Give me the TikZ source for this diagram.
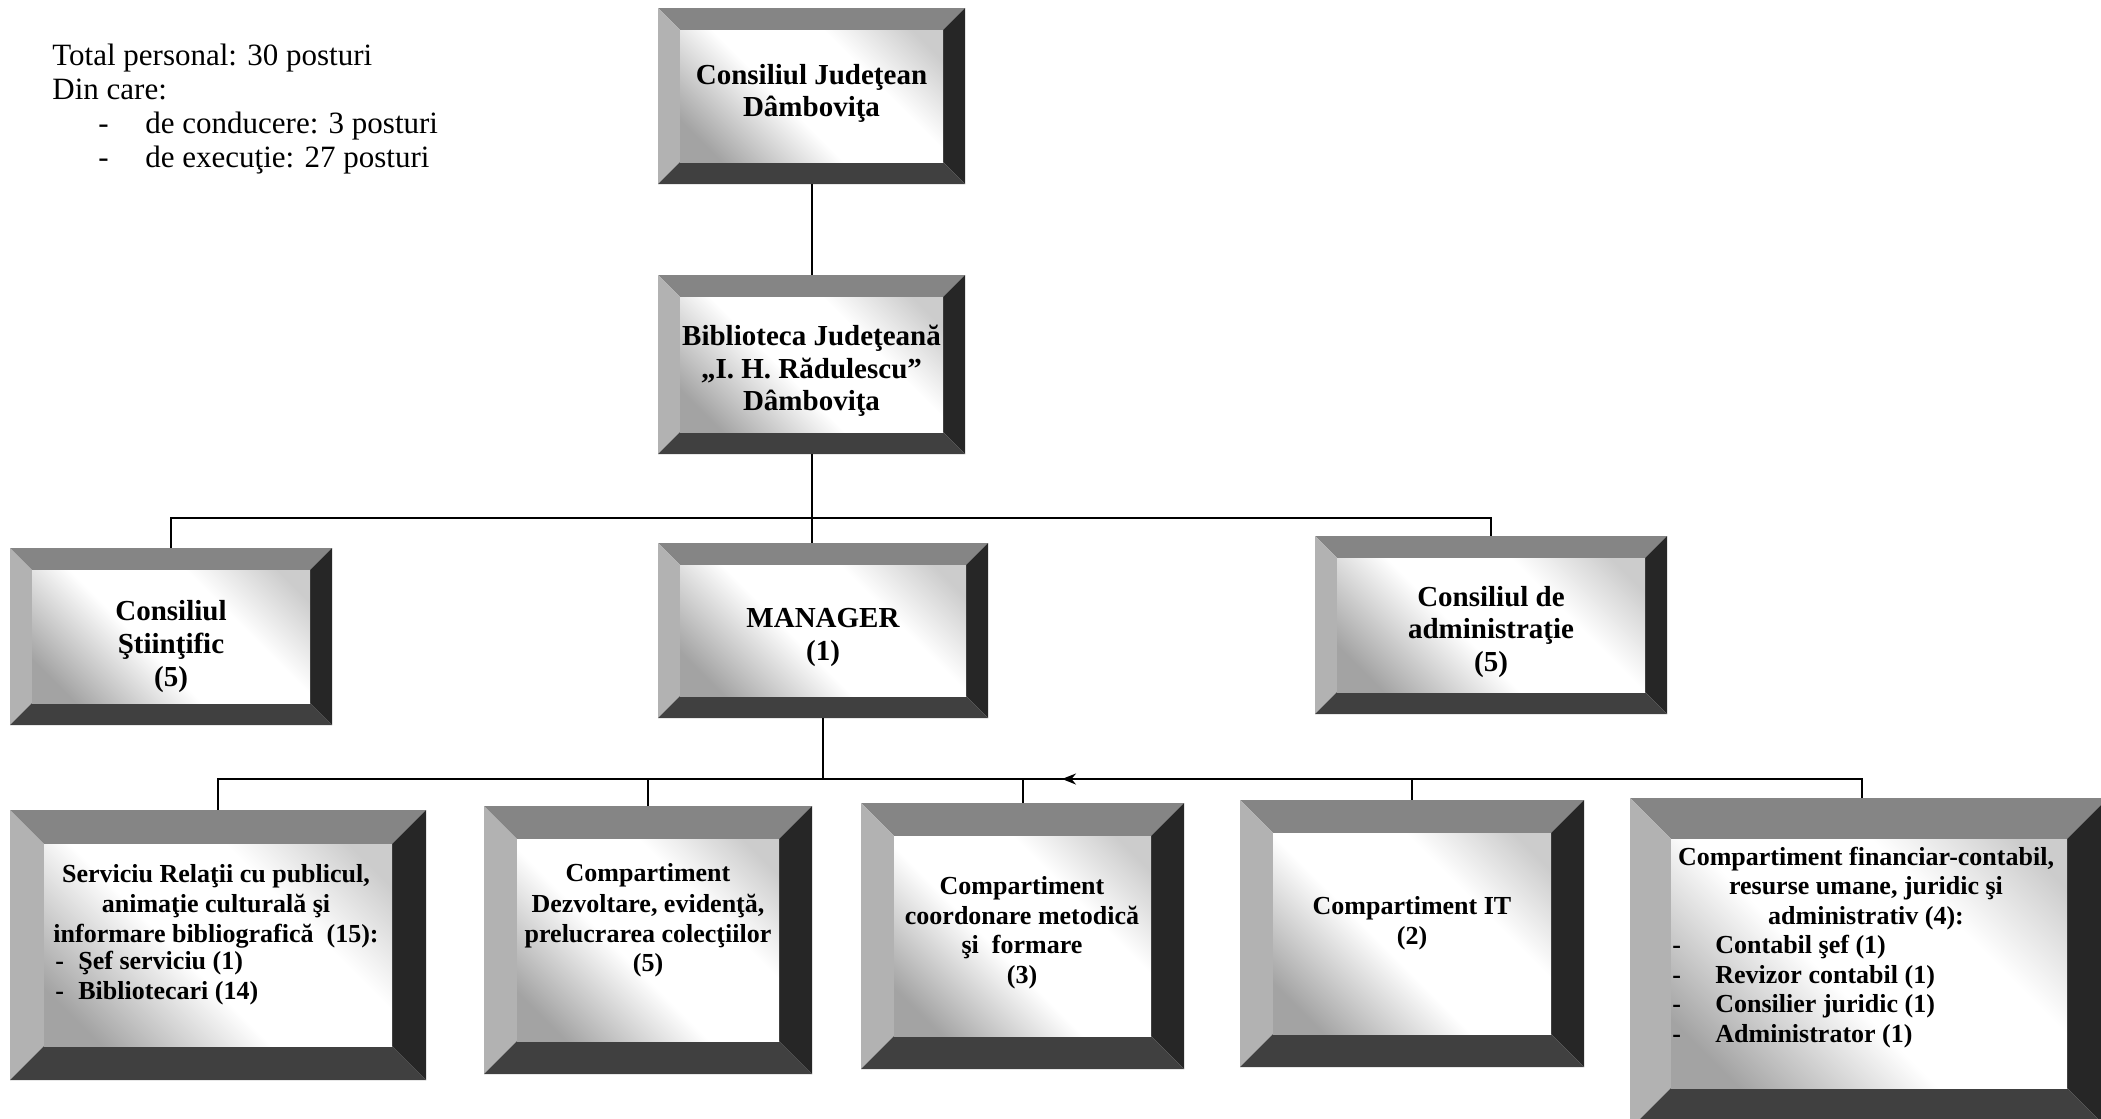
\documentclass[tikz,border=0pt]{standalone}
\usepackage{fontspec}
\setmainfont{Liberation Serif}
\usetikzlibrary{fit,arrows.meta}
\definecolor{bvtop}{gray}{0.52}
\definecolor{bvleft}{gray}{0.70}
\definecolor{bvright}{gray}{0.15}
\definecolor{bvbot}{gray}{0.25}
\definecolor{facegray}{gray}{0.64}
\definecolor{facegraytwo}{gray}{0.80}
\pgfdeclareverticalshading{facesh}{100bp}{color(0bp)=(facegray); color(22bp)=(facegray); color(44bp)=(white); color(64bp)=(white); color(80bp)=(facegraytwo); color(100bp)=(facegraytwo)}
\newcommand{\bevbox}[6]{%
  \fill[bvtop] (#2,#3) -- (#4,#3) -- (#4-#6,#3+#6) -- (#2+#6,#3+#6) -- cycle;
  \fill[bvleft] (#2,#3) -- (#2+#6,#3+#6) -- (#2+#6,#5-#6) -- (#2,#5) -- cycle;
  \fill[bvright] (#4,#3) -- (#4,#5) -- (#4-#6,#5-#6) -- (#4-#6,#3+#6) -- cycle;
  \fill[bvbot] (#2,#5) -- (#4,#5) -- (#4-#6,#5-#6) -- (#2+#6,#5-#6) -- cycle;
  \shade[shading=facesh, shading angle=-45] (#2+#6,#3+#6) rectangle (#4-#6,#5-#6);
  \coordinate (#1-nw) at (#2,#3);
  \coordinate (#1-se) at (#4,#5);
  \node[fit=(#1-nw)(#1-se), inner sep=0pt] (#1) {};
}
\tikzset{
  ln/.style={line width=1pt, black},
  reg/.style={font=\fontsize{15.5}{17}\selectfont, inner sep=0pt, anchor=base west},
  big/.style={font=\fontsize{14.5}{16}\selectfont\bfseries, inner sep=0pt, anchor=base},
  sml/.style={font=\fontsize{13}{15}\selectfont\bfseries, inner sep=0pt, anchor=base},
  smlw/.style={sml, anchor=base west}
}
\begin{document}
\begin{tikzpicture}[x=0.5pt,y=-0.5pt]
\useasboundingbox (0,0) rectangle (2101,1119);
\clip (0,0) rectangle (2101,1119);
\fill[white] (0,0) rectangle (2101,1119);

% top-left text
\node[reg] (tl1) at (52,65) {Total personal: 30 posturi};
\node[reg] (tl2) at (52,99) {Din care:};
\node[reg] (tl3) at (98,133) {\makebox[23.5pt][l]{-}de conducere: 3 posturi};
\node[reg] (tl4) at (98,167) {\makebox[23.5pt][l]{-}de execuţie: 27 posturi};

% boxes
\bevbox{b1}{658}{8}{965}{184}{22}
\bevbox{b2}{658}{275}{965}{454}{22}
\bevbox{sci}{10}{548}{332}{725}{22}
\bevbox{man}{658}{543}{988}{718}{22}
\bevbox{ca}{1315}{536}{1667}{714}{22}
\bevbox{s1}{10}{810}{426}{1080}{34}
\bevbox{s2}{484}{806}{812}{1074}{33}
\bevbox{s3}{861}{803}{1184}{1069}{33}
\bevbox{s4}{1240}{800}{1584}{1067}{33}
\bevbox{s5}{1630}{798}{2108}{1129}{41}

% connectors
\coordinate (j1) at (811.5,518);
\coordinate (j2) at (823,779);
\coordinate (arA) at (1084,779);
\coordinate (arB) at (1062,779);
\draw[ln] (b1.south) -- (b2.north);
\draw[ln] (b2.south) -- (b2.south |- man.north);
\draw[ln] (sci.north) |- (j1) -| (ca.north);
\draw[ln] (man.south) -- (j2);
\draw[ln] (s1.north) |- (j2) -| ([xshift=-3.5pt]s5.north);
\draw[ln] (s2.north) -- (s2.north |- j2);
\draw[ln] (s3.north) -- (s3.north |- j2);
\draw[ln] (s4.north) -- (s4.north |- j2);
\draw[ln, -{Stealth[length=7pt,width=5.5pt]}] (arA) -- (arB);

% box texts
\node[big] (b1t1) at (811.5,84) {Consiliul Judeţean};
\node[big] (b1t2) at (811.5,116) {Dâmboviţa};

\node[big] (b2t1) at (811.5,345) {Biblioteca Judeţeană};
\node[big] (b2t2) at (811.5,378) {„I. H. Rădulescu”};
\node[big] (b2t3) at (811.5,410) {Dâmboviţa};

\node[big] (scit1) at (171,620) {Consiliul};
\node[big] (scit2) at (171,653) {Ştiinţific};
\node[big] (scit3) at (171,686) {(5)};

\node[big] (mant1) at (823,627) {MANAGER};
\node[big] (mant2) at (823,660) {(1)};

\node[big] (cat1) at (1491,606) {Consiliul de};
\node[big] (cat2) at (1491,638) {administraţie};
\node[big] (cat3) at (1491,671) {(5)};

\node[sml] (s1t1) at (216,882) {Serviciu Relaţii cu publicul,};
\node[sml] (s1t2) at (216,912) {animaţie culturală şi};
\node[sml] (s1t3) at (216,942) {informare bibliografică\ \ (15):};
\node[smlw] (s1t4) at (55,969) {\makebox[11.5pt][l]{-}Şef serviciu (1)};
\node[smlw] (s1t5) at (55,999) {\makebox[11.5pt][l]{-}Bibliotecari (14)};

\node[sml] (s2t1) at (648,881) {Compartiment};
\node[sml] (s2t2) at (648,912) {Dezvoltare, evidenţă,};
\node[sml] (s2t3) at (648,942) {prelucrarea colecţiilor};
\node[sml] (s2t4) at (648,971) {(5)};

\node[sml] (s3t1) at (1022,894) {Compartiment};
\node[sml] (s3t2) at (1022,924) {coordonare metodică};
\node[sml] (s3t3) at (1022,953) {şi\ \ formare};
\node[sml] (s3t4) at (1022,983) {(3)};

\node[sml] (s4t1) at (1412,914) {Compartiment IT};
\node[sml] (s4t2) at (1412,944) {(2)};

\node[sml] (s5t1) at (1866,865) {Compartiment financiar-contabil,};
\node[sml] (s5t2) at (1866,894.5) {resurse umane, juridic şi};
\node[sml] (s5t3) at (1866,924) {administrativ (4):};
\node[smlw] (s5t4) at (1672,953.5) {\makebox[21.5pt][l]{-}Contabil şef (1)};
\node[smlw] (s5t5) at (1672,983) {\makebox[21.5pt][l]{-}Revizor contabil (1)};
\node[smlw] (s5t6) at (1672,1012.5) {\makebox[21.5pt][l]{-}Consilier juridic (1)};
\node[smlw] (s5t7) at (1672,1042) {\makebox[21.5pt][l]{-}Administrator (1)};
\end{tikzpicture}
\end{document}
